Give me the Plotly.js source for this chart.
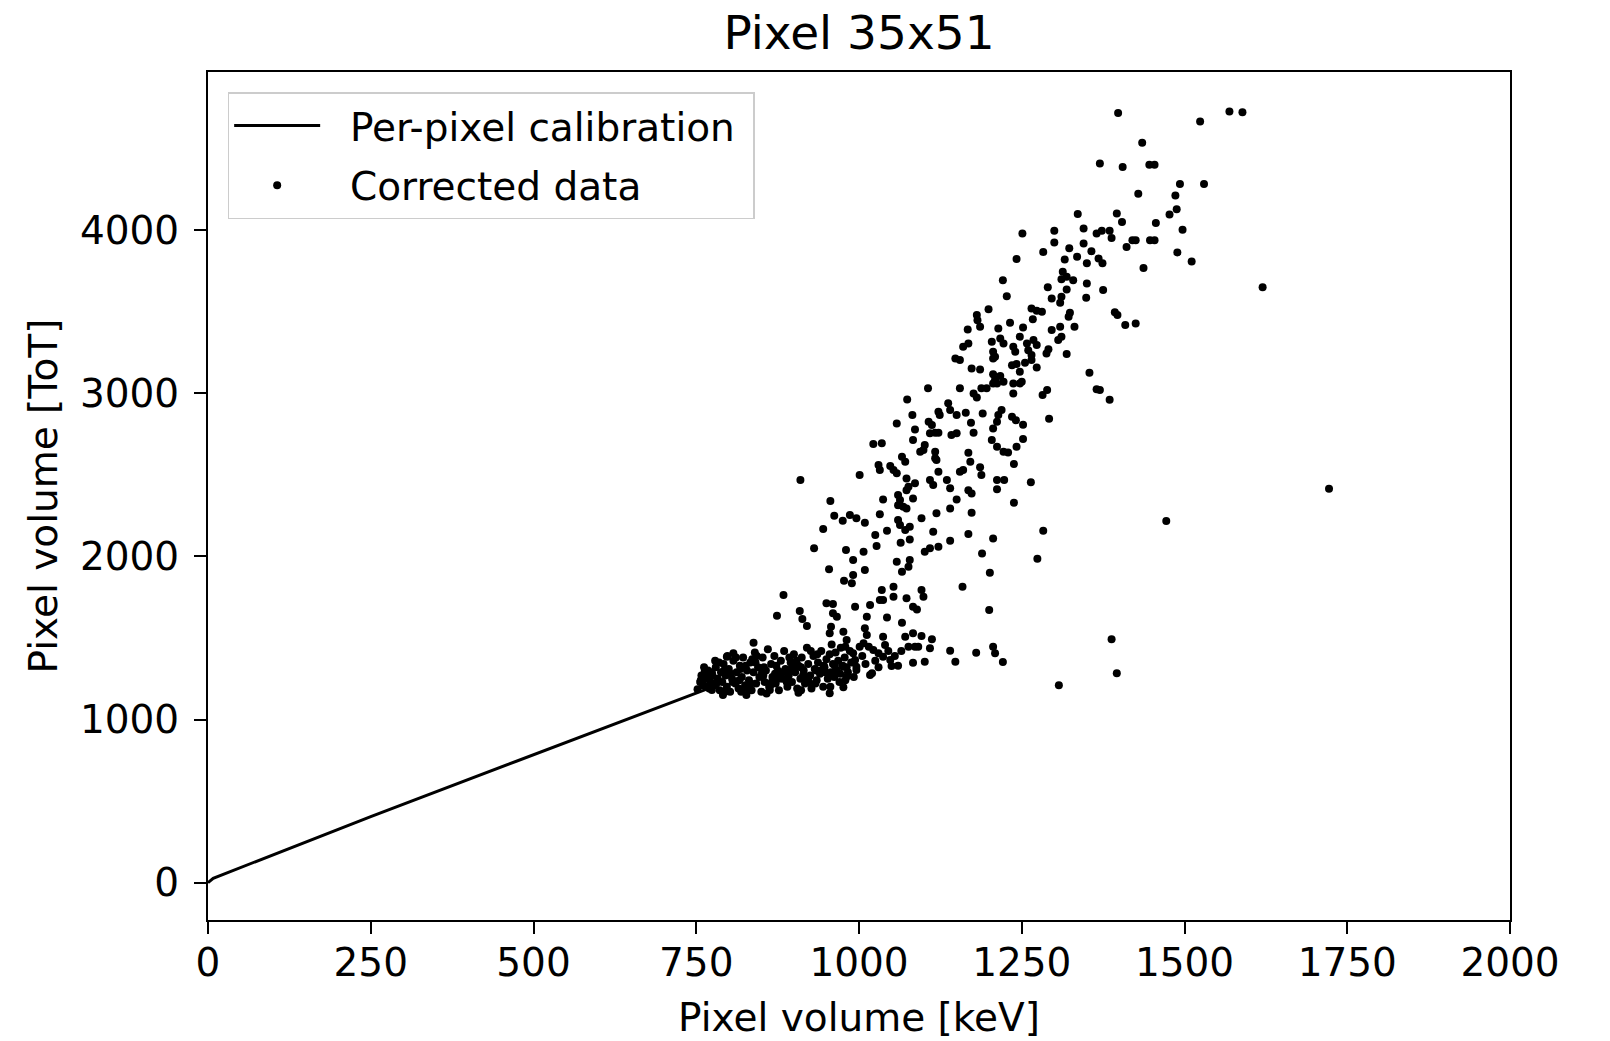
<!DOCTYPE html>
<html>
<head>
<meta charset="utf-8">
<script src="https://cdn.plot.ly/plotly-3.0.1.min.js"></script>
<style>
html,body{margin:0;padding:0;background:#fff;}
#chart{width:1610px;height:1041px;}
</style>
</head>
<body>
<div id="chart"></div>
<script>
// Per-pixel calibration curve (keV -> ToT)
const calibEnergy = [0, 8, 250, 500, 765];
const calibToT    = [0, 27, 405, 784, 1185];

// Corrected data points (keV, ToT)
const dataEnergy = [
  1398,1524,1569,1589,1435,1370,1405,1446,1454,1493,1530,1429,1486,1488,1477,1396,1404,1456,1497,1365,
  1373,1385,1388,1411,1420,1425,1447,1454,1489,1511,1437,1374,1375,1620,1393,1397,1409,1425,1370,1385,1722,
  1292,1219,1235,1241,1252,1252,1242,1222,1229,1238,1223,1264,1238,1283,1274,1472,1388,1396,1307,1221,
  1106,1155,1176,1181,1188,1196,1206,1222,1237,1247,1237,1282,1289,1365,1074,1137,1140,1150,1122,1124,1164,1190,1082,1058,1107,1112,1086,
  1214,1212,1206,1172,1176,1109,1117,1122,1083,1142,1150,1204,1212,1101,1094,1099,1022,1035,1066,1071,1117,1119,1117,1030,1032,1048,1053,1058,1168,1171,1160,1155,1186,1188,1122,
  1001,1073,1086,1076,1073,1109,1114,1135,1140,1212,1212,1168,1173,1037,1060,1063,1068,1060,1083,1073,1150,1140,1032,1119,1173,986,996,1009,1060,1063,1078,1071,1096,1025,1043,1027,1064,1078,1114,1140,1168,1206,1101,1109,1122,1189,
  1007,991,1058,1078,1076,1066,1009,991,989,1201,1159,1035,1053,1053,1073,1096,1099,994,1017,1032,1037,1083,1089,1200,1043,1012,1066,1009,1012,1037,1071,1096,1112,1007,1015,1022,1030,1037,1048,1050,991,994,996,1076,1086,1091,1109,1083,1101,1140,1148,1180,1206,1209,1020,
  910,956,962,975,945,931,980,954,977,884,874,909,913,950,960,960,966,920,957,955,1083,976,981,979,1040,1001,838,807,763,761,766,774,791,827,863,907,955,976,1017,996,976,981,797,
  1336,1300,1345,1251,1300,1345,1283,1323,1335,1357,1242,1316,1350,1368,1313,1319,1329,1311,1221,1350,1290,1319,1311,1296,1309,1227,1349,1199,1265,1273,1281,1267,1324,1322,1181,1182,1167,1186,1214,1232,1252,1296,1309,1311,1306,1331,1204,1217,1222,1247,1258,1268,1273,1168,1160,1291,1288,1237,1240,1206,1209,1260,1265,1265,1319,1354,1148,1155,1173,1186,1206,1235,1242,1255,1273,1247,1250,1206,1217,1209,1212,
  752,756,758,760,764,768,770,772,775,778,780,783,786,788,
  790,792,795,797,800,802,805,807,810,812,815,817,820,822,825,828,
  831,833,835,838,840,842,845,847,850,852,855,857,860,862,865,867,870,
  872,875,877,880,882,885,887,890,892,895,897,900,902,905,907,910,
  912,915,917,920,922,925,927,930,932,935,937,940,942,945,947,950,952,955,957,960,
  962,964,966,968,970,972,975,978,983,986,988,992,
  1005,1010,1025,1030,1045,1055,1060,1065,
  762,774,785,794,803,811,819,826,834,843,851,858,866,873,881,889,896,904,911,918,926,933,941,948,956,963,971,979,
  766,779,798,816,836,854,871,893,914,936,958,981,
  757,769,781,793,806,818,829,841,853,864,876,888,899,911,923,934,946
];
const dataToT = [
  4717,4666,4727,4723,4535,4408,4386,4400,4400,4283,4283,4222,4212,4128,4096,4102,4049,4043,4002,3979,
  3996,3996,3952,3896,3938,3938,3938,3938,3863,3808,3767,3796,3632,3649,3497,3479,3418,3428,3019,2960,2414,
  2843,2897,2856,2835,2807,2719,2672,2641,2637,2566,2468,2455,2329,2157,1985,2216,1492,1283,1210,1352,
  3030,3030,2999,2974,3030,3030,3060,3070,3060,3060,2999,2989,3019,3024,2962,2938,2897,2866,2886,2866,2880,2876,2866,2815,2825,2805,2778,
  2866,2825,2784,2819,2758,2754,2758,2758,2713,2744,2754,2713,2672,2682,2641,2652,2688,2693,2611,2580,2641,2590,2601,2560,2529,2554,2529,2509,2635,2580,2529,2519,2546,2498,2519,
  2498,2478,2448,2427,2406,2468,2437,2468,2417,2468,2411,2406,2386,2349,2376,2345,2304,2314,2355,2294,2349,2294,2258,2264,2267,2253,2233,2206,2223,2192,2182,2161,2233,2131,2157,2063,2084,2104,2151,2096,2137,2110,2028,2049,2059,2018,
  2028,1978,1967,1978,1936,1906,1916,1886,1835,1900,1814,1794,1814,1753,1743,1794,1753,1691,1702,1732,1732,1691,1675,1671,1626,1630,1593,1559,1518,1507,1507,1512,1492,1467,1446,1426,1406,1385,1365,1328,1406,1365,1324,1446,1446,1446,1436,1348,1354,1422,1354,1409,1446,1406,1283,
  2468,2339,2249,2218,2167,2049,2039,1921,1851,1763,1636,1665,1616,1712,1708,1651,1630,1573,1569,1528,1528,1538,1487,1446,1457,1446,1471,1406,1293,1242,1201,1181,1150,1150,1181,1164,1161,1197,1273,1303,1324,1262,1385,
  4098,3996,4010,3979,3924,3918,3865,3888,3836,3871,3822,3820,3796,3826,3744,3714,3693,3698,3693,3673,3649,3636,3591,3581,3554,3595,3585,3514,3520,3505,3499,3453,3493,3469,3479,3448,3391,3407,3397,3432,3403,3387,3407,3346,3326,3407,3315,3336,3305,3346,3305,3326,3295,3305,3285,3269,3244,3285,3254,3254,3223,3264,3234,3203,3240,3125,3213,3203,3152,3146,3213,3172,3179,3187,3158,3131,3070,3117,3105,3082,3060,
  1185,1230,1270,1210,1250,1300,1190,1230,1270,1210,1320,1250,1180,1290,
  1230,1340,1270,1200,1310,1170,1250,1360,1220,1290,1190,1330,1260,1380,1210,1300,
  1240,1350,1180,1290,1410,1220,1320,1260,1170,1380,1230,1300,1430,1200,1340,1260,1390,
  1220,1300,1180,1360,1250,1420,1310,1200,1270,1350,1230,1400,1290,1190,1330,1250,
  1380,1300,1220,1440,1340,1270,1190,1390,1310,1240,1350,1280,1420,1200,1320,1370,1250,1400,1290,1340,
  1260,1410,1300,1360,1230,1440,1330,1380,1290,1420,1350,1260,
  1390,1340,1360,1320,1420,1390,1330,1420,
  1320,1290,1350,1170,1280,1380,1170,1330,1220,1390,1290,1160,1230,1330,1290,1230,1310,1360,1320,1260,1420,1220,1300,1290,1200,1330,1280,1240,
  1260,1360,1390,1240,1370,1320,1280,1380,1270,1400,1460,1320,
  1240,1280,1220,1300,1230,1310,1190,1350,1270,1210,1250,1290,1320,1180,1230,1300,1330
];

const xTicks = [0, 250, 500, 750, 1000, 1250, 1500, 1750, 2000];
const yTicks = [0, 1000, 2000, 3000, 4000];

const FONT = 'DejaVu Sans, Liberation Sans, sans-serif';
const NB = '\u00a0\u00a0';

const traces = [
  {
    x: calibEnergy, y: calibToT,
    type: 'scatter', mode: 'lines',
    name: NB + 'Per-pixel calibration\u00a0',
    legendgroup: 'a',
    line: {color: '#000000', width: 3}
  },
  {
    x: dataEnergy, y: dataToT,
    type: 'scatter', mode: 'markers',
    name: NB + 'Corrected data',
    legendgroup: 'b',
    marker: {color: '#000000', size: 8, line: {width: 0}}
  }
];

const axisCommon = {
  showline: true, linecolor: '#000000', linewidth: 2, mirror: true,
  showgrid: false, zeroline: false,
  ticks: 'outside', ticklen: 12, tickwidth: 2, tickcolor: '#000000',
  tickfont: {family: FONT, size: 39, color: '#000000'},
  automargin: false
};

const layout = {
  width: 1610, height: 1041,
  paper_bgcolor: '#ffffff', plot_bgcolor: '#ffffff',
  margin: {l: 208, r: 100, t: 72, b: 121},
  font: {family: FONT, color: '#000000'},
  title: {
    text: 'Pixel 35x51',
    font: {family: FONT, size: 47, color: '#000000'},
    x: 0.5, xref: 'paper', xanchor: 'center',
    y: 1 - 33 / 1041, yref: 'container', yanchor: 'middle'
  },
  xaxis: Object.assign({}, axisCommon, {
    range: [0, 2000], tickmode: 'array', tickvals: xTicks,
    ticktext: xTicks.map(String),
    ticklabelstandoff: -5,
    title: {text: 'Pixel volume [keV]', font: {family: FONT, size: 39, color: '#000000'}, standoff: 20}
  }),
  yaxis: Object.assign({}, axisCommon, {
    range: [-229, 4969], tickmode: 'array', tickvals: yTicks,
    ticktext: yTicks.map(String),
    ticklabelstandoff: 7,
    title: {text: 'Pixel volume [ToT]', font: {family: FONT, size: 39, color: '#000000'}, standoff: 10}
  }),
  showlegend: true,
  legend: {
    x: 0.0151, y: 0.9763, xanchor: 'left', yanchor: 'top',
    bgcolor: '#ffffff', bordercolor: '#cccccc', borderwidth: 1.5,
    font: {family: FONT, size: 39, color: '#000000'},
    itemwidth: 86, tracegroupgap: 6
  }
};

Plotly.newPlot('chart', traces, layout, {displayModeBar: false, staticPlot: true});
</script>
</body>
</html>
